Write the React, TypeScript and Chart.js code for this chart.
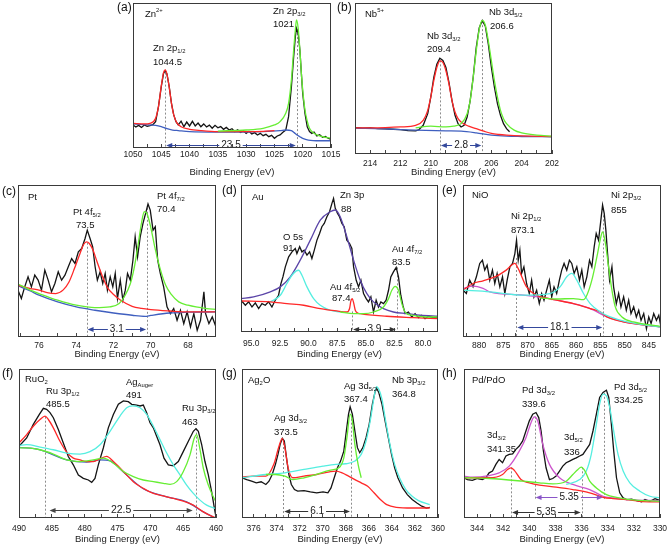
import { useEffect, useRef } from 'react';
import { Chart, registerables } from 'chart.js';

Chart.register(...registerables);

type Pt = [number, number];

const FONT = '"Liberation Sans", Arial, Helvetica, sans-serif';
const AXIS_TITLE = 'Binding Energy (eV)';

// ---------------- (a) Zn 2p ----------------
const aMajor = [1050, 1045, 1040, 1035, 1030, 1025, 1020, 1015];
const aMinor = [1047.5, 1042.5, 1037.5, 1032.5, 1027.5, 1022.5, 1017.5];
const aBlack: Pt[] = [[1050, 15.9], [1049.5, 14.5], [1049, 15.6], [1048.5, 14.2], [1048, 15.9], [1047.5, 14.9], [1047, 15.4], [1046.5, 16.1], [1046, 18.2], [1045.5, 28.5], [1045, 42.3], [1044.6, 51.5], [1044.3, 53.3], [1044, 51], [1043.6, 42.3], [1043.2, 30.8], [1042.8, 22.8], [1042.4, 18.2], [1042, 15.9], [1041.5, 18.5], [1041, 14.7], [1040.5, 17.9], [1040, 15.2], [1039.5, 18.4], [1039, 15.2], [1038.5, 17.2], [1038, 14.7], [1037.5, 16.6], [1037, 14.5], [1036.5, 15.8], [1036, 13.6], [1035.5, 15.6], [1035, 13.9], [1034.5, 14.8], [1034, 12.9], [1033.5, 14.2], [1033, 12.4], [1032.5, 13.3], [1032, 11.3], [1031.5, 12.6], [1031, 10.8], [1030.5, 11.9], [1030, 10.1], [1029.5, 11.5], [1029, 9.6], [1028.5, 10.6], [1028, 9.0], [1027.5, 10.1], [1027, 8.5], [1026.5, 9.4], [1026, 7.8], [1025.5, 8.7], [1025, 6.7], [1024.5, 8.3], [1024, 9.0], [1023.5, 10.8], [1023, 12.4], [1022.5, 21.6], [1022, 42.3], [1021.6, 63], [1021.3, 76.8], [1021.1, 82.5], [1020.8, 79], [1020.5, 67.6], [1020.2, 49.2], [1020, 37.7], [1019.6, 23.9], [1019.2, 14.7], [1018.8, 11.3], [1018.4, 10.1], [1018, 11.0], [1017.5, 8.3], [1017, 9.2], [1016.5, 7.4], [1016, 8.0], [1015.5, 6.7], [1015, 6.0]];
const aRed: Pt[] = [[1050, 17], [1048, 16.6], [1047, 17], [1046, 20.5], [1045.5, 28.5], [1045, 42.8], [1044.6, 52], [1044.3, 53.8], [1044, 51], [1043.6, 42], [1043.2, 30.8], [1042.8, 22.8], [1042.3, 17.7], [1041.5, 14.7], [1040, 12.9], [1038, 12], [1035, 11.3], [1030, 11.3], [1027, 11.5], [1025, 12]];
const aGreen: Pt[] = [[1035, 11.7], [1030, 12.4], [1027, 13.6], [1025, 15.9], [1024, 18.2], [1023, 23.9], [1022.5, 30.8], [1022, 46.9], [1021.6, 67.6], [1021.3, 81.4], [1021.1, 88.3], [1020.8, 82.5], [1020.5, 67.6], [1020.2, 49.2], [1020, 40], [1019.6, 26.2], [1019.2, 18.5], [1018.8, 13.6], [1018, 10.1], [1017, 8.3], [1016, 7.4], [1015, 6.7]];
const aBlue: Pt[] = [[1050, 16.6], [1048, 16.1], [1046, 15.6], [1045, 14.7], [1044, 13.3], [1043, 12.4], [1042, 12], [1040, 11.3], [1035, 11], [1030, 11], [1027, 11.3], [1024, 12], [1023, 12.4], [1022, 12], [1021.5, 10.6], [1021, 9], [1020.5, 7.8], [1020, 6.7], [1019, 5.5], [1017, 5], [1015, 5]];

// ---------------- (b) Nb 3d ----------------
const bMajor = [214, 212, 210, 208, 206, 204, 202];
const bMinor = [215, 213, 211, 209, 207, 205, 203];
const bBlack: Pt[] = [[215, 17.5], [214.5, 17.1], [214, 17.3], [213.5, 16.8], [213, 16.6], [212.5, 16.4], [212, 16.2], [211.5, 15.5], [211, 15.3], [210.8, 16], [210.5, 19], [210.2, 26.7], [210, 37.6], [209.8, 50.8], [209.6, 59.5], [209.4, 63.5], [209.2, 62], [209, 57.3], [208.8, 47.5], [208.6, 35.4], [208.4, 25.6], [208.2, 20.1], [208, 17.9], [207.8, 19], [207.6, 24.5], [207.4, 35.4], [207.2, 50.8], [207, 70.5], [206.8, 83.6], [206.6, 88.4], [206.4, 84.7], [206.2, 72.6], [206, 57.3], [205.8, 44.2], [205.6, 33.3], [205.4, 25.6], [205.2, 20.1], [205, 16.8], [204.8, 14.7]];
const bRed: Pt[] = [[215, 17.3], [213, 17.5], [212, 17.9], [211, 19], [210.5, 22.3], [210.2, 28.9], [210, 37.6], [209.8, 48.6], [209.6, 57.3], [209.4, 61.7], [209.2, 60.6], [209, 55.1], [208.8, 46.4], [208.6, 35.4], [208.4, 27.8], [208.2, 23.4], [208, 21.2], [207.5, 18.4], [207, 16.8], [206.5, 15.1], [206, 13.6], [205.5, 12.9], [205, 12.5], [204, 12], [202, 11.6]];
const bGreen: Pt[] = [[211, 17.3], [210, 18.4], [209, 17.9], [208.5, 18.4], [208, 20.1], [207.6, 26.7], [207.4, 35.4], [207.2, 50.8], [207, 68.3], [206.8, 82.5], [206.6, 88.4], [206.4, 85.3], [206.2, 74.8], [206, 61.7], [205.8, 48.6], [205.6, 37.6], [205.4, 28.9], [205.2, 23.4], [205, 20.1], [204.5, 15.8], [204, 14], [203, 12.5], [202, 11.8]];
const bBlue: Pt[] = [[215, 17.1], [213, 16.6], [211, 15.8], [209, 15.3], [208, 15.1], [207, 14], [206, 12.5], [205, 11.8], [204, 11.6], [202, 11.4]];

// ---------------- (c) Pt 4f ----------------
const cMajor = [76, 74, 72, 70, 68];
const cMinor = [77, 75, 73, 71, 69, 67];
const cBlack: Pt[] = [[77.13, 30.8], [76.95, 25.3], [76.77, 33], [76.59, 39.6], [76.41, 33], [76.23, 40.7], [76.05, 37.4], [75.87, 30.8], [75.69, 44], [75.51, 37.4], [75.33, 29.7], [75.15, 35.2], [74.97, 42.9], [74.79, 37.4], [74.61, 40.7], [74.43, 46.2], [74.25, 51.6], [74.07, 48.4], [73.89, 56], [73.71, 58.2], [73.53, 64.8], [73.41, 70.3], [73.26, 64.8], [73.12, 59.3], [72.99, 46.2], [72.87, 37.4], [72.72, 42.9], [72.58, 35.2], [72.45, 41.8], [72.33, 30.8], [72.18, 39.6], [72.04, 33], [71.91, 41.8], [71.79, 25.3], [71.64, 37.4], [71.5, 24.2], [71.37, 30.8], [71.25, 41.8], [71.1, 37.4], [70.96, 50.5], [70.84, 65.9], [70.71, 52.7], [70.57, 65.9], [70.42, 74.7], [70.28, 81.3], [70.15, 87.5], [70.03, 83.5], [69.88, 70.3], [69.76, 72.5], [69.63, 50.5], [69.49, 41.8], [69.31, 33], [69.13, 19.8], [68.95, 15.4], [68.77, 18.7], [68.59, 11], [68.41, 17.6], [68.23, 8.8], [68.05, 16.5], [67.87, 6.6], [67.69, 15.4], [67.51, 4.4], [67.33, 11], [67.15, 29.7], [67.06, 15.4], [66.88, 8.8], [66.7, 13.2], [66.5, 6.6]];
const cRed: Pt[] = [[77.1, 34], [76.5, 32], [76, 30.8], [75.5, 29], [75.1, 28.6], [74.7, 31], [74.4, 36], [74.1, 45], [73.8, 55], [73.6, 61], [73.45, 62.6], [73.3, 61.5], [73.1, 57], [72.9, 50], [72.6, 40], [72.3, 32], [72, 28], [71.6, 24], [71, 20.2], [70.5, 18.8], [70, 18], [69, 17.1], [68, 16.5], [66.5, 16.5]];
const cGreen: Pt[] = [[77.1, 34.7], [76.5, 31], [76, 28.6], [75, 24.2], [74, 20.9], [73, 19.3], [72.2, 19.8], [71.7, 22], [71.4, 27], [71.1, 35], [70.9, 45], [70.7, 59.3], [70.5, 75], [70.35, 82.4], [70.2, 81], [70, 72], [69.8, 60], [69.5, 45], [69.2, 34], [68.9, 28], [68.5, 23.1], [68, 20.9], [67, 18.7], [66.5, 18.2]];
const cBlue: Pt[] = [[77.1, 33.4], [76.5, 30.5], [76, 27.5], [75, 23.1], [74, 19.8], [73, 17.6], [72, 15.8], [71, 14.3], [70.3, 13.6], [70, 14.2], [69, 15.8], [68, 16.3], [66.5, 16.5]];

// ---------------- (d) Au 4f / Zn 3p ----------------
const dMajor = [95, 92.5, 90, 87.5, 85, 82.5, 80];
const dMinor = [93.75, 91.25, 88.75, 86.25, 83.75, 81.25, 78.75];
const dBlack: Pt[] = [[95.9, 21.6], [95.52, 18.2], [95.23, 20.5], [94.94, 17], [94.65, 19.8], [94.36, 15.9], [94.07, 19.3], [93.78, 18.2], [93.49, 20.5], [93.2, 17], [92.91, 21.6], [92.62, 25], [92.41, 33], [92.24, 37.5], [92.03, 44.3], [91.74, 51.1], [91.45, 54.5], [91.16, 56.8], [91.02, 53.4], [90.78, 58], [90.58, 54.5], [90.38, 55.7], [90.14, 52.3], [89.91, 54.5], [89.71, 50], [89.5, 55.7], [89.27, 62.5], [89.04, 67], [88.84, 71.6], [88.63, 73.9], [88.4, 78.4], [88.17, 81.8], [87.96, 87.5], [87.82, 90.9], [87.67, 84.1], [87.47, 80.7], [87.3, 78.4], [87.09, 73.9], [86.89, 71.6], [86.66, 62.5], [86.42, 60.2], [86.22, 56.8], [86.07, 44.3], [85.84, 35.2], [85.64, 30.7], [85.43, 35.2], [85.2, 26.1], [84.97, 22.7], [84.77, 20.5], [84.56, 23.9], [84.33, 13.6], [84.1, 21.6], [83.9, 17], [83.69, 20.5], [83.46, 19.3], [83.23, 21.6], [83.02, 28.4], [82.82, 37.5], [82.59, 40.9], [82.35, 43.9], [82.15, 37.5], [81.95, 25], [81.77, 18.2], [81.57, 12.5], [81.28, 13.6], [80.99, 10.2], [80.7, 12.5], [80.41, 9.8], [80.12, 11.4], [79.83, 9.1], [79.53, 10.7], [79.1, 9.8], [78.7, 10.2]];
const dPurple: Pt[] = [[95.9, 22.7], [94.8, 23.9], [93.34, 27.3], [92.47, 30.7], [91.6, 37.5], [90.73, 48.9], [89.85, 62.5], [88.98, 76.1], [88.11, 81.8], [87.67, 83], [87.24, 78.4], [86.66, 64.8], [86.07, 48.9], [85.49, 35.2], [84.91, 26.1], [84.33, 20.5], [83.46, 15.9], [82.59, 13.6], [81.42, 12.5], [80.26, 11.4], [78.7, 10.7]];
const dCyan: Pt[] = [[93.34, 20.5], [92.47, 25], [91.89, 33], [91.45, 38.6], [91.07, 41.6], [90.87, 42], [90.58, 38.6], [90.14, 30.7], [89.56, 22.7], [88.98, 18.2], [88.11, 14.8], [87.24, 13.6]];
const dRed: Pt[] = [[95.9, 21.1], [93.34, 20.5], [91.89, 19.3], [90.43, 18.2], [88.98, 15.9], [87.53, 14.3], [86.66, 13.6], [86.42, 16], [86.31, 21], [86.19, 22.7], [86.07, 20], [85.93, 15], [85.73, 13], [85.49, 12.5], [83.17, 10.7], [80.84, 9.8], [78.7, 9.1]];
const dGreen: Pt[] = [[87.24, 13.6], [86.07, 12.5], [85.2, 12.5], [84.33, 13.6], [83.46, 17], [83.02, 22.7], [82.73, 28.4], [82.44, 31.1], [82.15, 28.4], [81.86, 19.3], [81.57, 13.6], [80.99, 11.4], [79.68, 10.2], [78.7, 10.2]];

// ---------------- (e) Ni 2p ----------------
const eMajor = [880, 875, 870, 865, 860, 855, 850, 845];
const eMinor = [882.5, 877.5, 872.5, 867.5, 862.5, 857.5, 852.5, 847.5];
const eBlack: Pt[] = [[883.3, 30.8], [882.61, 28.6], [881.92, 37.4], [881.23, 33], [880.54, 39.6], [879.85, 48.4], [879.3, 50.5], [878.82, 44], [878.33, 47.3], [877.78, 37.4], [877.23, 44], [876.75, 35.2], [876.27, 41.8], [875.71, 33], [875.16, 39.6], [874.68, 28.6], [874.2, 37.4], [873.64, 46.2], [873.09, 48.4], [872.61, 54.9], [872.27, 63.7], [871.92, 50.5], [871.58, 57.1], [871.23, 41.8], [870.75, 46.2], [870.2, 35.2], [869.64, 28.6], [869.16, 37.4], [868.68, 26.4], [868.13, 30.8], [867.58, 22], [867.09, 28.6], [866.61, 24.2], [866.06, 30.8], [865.51, 37.4], [865.02, 26.4], [864.54, 33], [864, 28.6], [863.44, 37.4], [862.96, 44], [862.47, 48.4], [861.92, 44], [861.37, 50.5], [860.89, 48.4], [860.4, 41.8], [859.85, 46.2], [859.3, 37.4], [858.82, 44], [858.33, 33], [857.78, 39.6], [857.23, 50.5], [856.75, 46.2], [856.27, 59.3], [855.85, 68.1], [855.37, 63.7], [854.89, 76.9], [854.54, 86.8], [854.2, 81.3], [853.86, 70.3], [853.51, 54.9], [853.1, 37.4], [852.61, 46.2], [852.27, 33], [851.71, 22], [851.23, 28.6], [850.75, 19.8], [850.2, 26.4], [849.65, 17.6], [849.16, 24.2], [848.68, 15.4], [848.13, 19.8], [847.58, 13.2], [847.09, 17.6], [846.61, 11], [846.06, 15.4], [845.5, 5.5], [845.02, 13.2], [844.54, 8.8], [844, 15.4], [843.44, 11], [842.96, 14.3], [842.5, 6.6]];
const eRed: Pt[] = [[883.3, 30.8], [881.23, 35.2], [879.16, 37], [876.4, 40], [874.4, 44], [872.61, 48.4], [871.92, 45], [870.2, 33], [868.13, 27.5], [866.06, 25.5], [864, 24.2], [860.54, 22], [857.09, 18.7], [855.02, 16.5], [853.64, 13.2], [851.57, 11], [848.13, 8.8], [842.5, 6.6]];
const eMagenta: Pt[] = [[883.3, 31.9], [881.23, 33.5], [879.16, 32], [877.78, 29.7], [870.89, 27.5], [864, 24.2], [857.09, 18.7], [853.64, 13.2], [850.2, 9.9], [842.5, 6.6]];
const eCyan: Pt[] = [[883.3, 30.8], [877.78, 29.7], [870.89, 27.5], [865.37, 28.6], [863.3, 33], [861.92, 39.6], [860.89, 41.8], [859.85, 37.4], [858.47, 28.6], [857.09, 22], [855.02, 16.5], [852.95, 13.2], [849.51, 9.9], [842.5, 6.6]];
const eGreen: Pt[] = [[867.44, 25.7], [864, 25], [860.54, 25.3], [858.47, 24.6], [857.78, 27.5], [856.75, 37.4], [855.71, 52.7], [854.89, 65.9], [854.54, 69.2], [854, 62.6], [853.3, 46.2], [852.61, 30.8], [851.92, 19.8], [850.54, 13.2], [848.13, 9.9], [842.5, 7]];

// ---------------- (f) Ru 3p ----------------
const fMajor = [490, 485, 480, 475, 470, 465, 460];
const fMinor = [487.5, 482.5, 477.5, 472.5, 467.5, 462.5];
const fBlack: Pt[] = [[490, 48.1], [488.83, 53.7], [487.82, 62.8], [486.9, 69.5], [486.29, 73.6], [485.79, 72.9], [485.28, 70.7], [484.77, 67.3], [484.01, 59.4], [483.25, 50.3], [482.49, 41.3], [481.73, 35.7], [480.96, 28.9], [480.2, 26.6], [479.44, 25.5], [478.93, 23.9], [478.43, 26.6], [477.92, 35.7], [477.16, 47], [476.4, 60.5], [475.63, 69.5], [474.87, 76.3], [474.11, 78.6], [473.35, 78.1], [472.84, 76.3], [472.08, 75.8], [471.57, 75.2], [471.07, 75.8], [470.56, 70.7], [470.05, 63.9], [469.54, 60.5], [469.04, 54.9], [468.53, 49.2], [467.92, 40.2], [467.26, 35.7], [466.5, 35], [465.74, 37.9], [464.97, 44.7], [464.21, 51.5], [463.45, 58.2], [463.05, 60], [462.69, 58.2], [462.18, 49.2], [461.68, 37.9], [461.17, 28.9], [460.66, 17.6], [460.15, 4.1], [460, 0.7]];
const fRed: Pt[] = [[490, 50.3], [488.83, 56], [487.82, 61.6], [486.8, 66.1], [486.04, 68.4], [485.53, 66.1], [484.77, 60.5], [483.76, 51.5], [482.74, 44.2], [481.73, 40.2], [480.71, 39], [479.7, 37.9], [478.68, 37.9], [477.66, 39.7], [476.65, 41.3], [475.63, 37.9], [474.11, 31.2], [472.59, 24.4], [471.07, 19.9], [469.54, 16.5], [468.02, 14.9], [466.5, 13.1], [464.97, 11.3], [463.45, 8.6], [461.93, 4.1], [460.41, 0.7], [460, 0]];
const fCyan: Pt[] = [[490, 48.8], [488.83, 49.2], [486.8, 47.6], [484.77, 45.8], [482.74, 43.6], [480.71, 42.9], [479.19, 44.5], [477.66, 49.2], [476.14, 58.2], [474.62, 68.4], [473.6, 74], [472.69, 75.2], [471.57, 74], [470.56, 69.5], [469.54, 61.6], [468.53, 52.6], [467.51, 43.6], [466.5, 35.7], [465.48, 28.9], [464.47, 22.1], [463.45, 16.5], [462.44, 12], [461.42, 8.6], [460, 6.3]];
const fGreen: Pt[] = [[490, 47], [488.83, 47], [486.8, 45.8], [484.77, 42.9], [482.74, 39], [480.71, 37.9], [478.68, 39], [477.16, 40.2], [475.63, 36.8], [474.11, 31.2], [472.59, 27.8], [471.07, 25.5], [469.54, 24.4], [468.02, 23.3], [467, 22.6], [465.99, 24.4], [464.97, 31.2], [463.96, 42.4], [463.3, 53.7], [462.94, 56], [462.44, 46], [461.93, 33.4], [461.17, 22.1], [460.41, 14.2], [460, 10.8]];
const fBlue: Pt[] = [[490, 47.4], [486.8, 45.8], [482.74, 39], [479.7, 37.5], [477.66, 39], [476.14, 38.3], [474.11, 30.9], [471.07, 19.6], [467.51, 14.2], [464.47, 10.8], [461.93, 4.1], [460.41, 0.7]];

// ---------------- (g) Ag 3d ----------------
const gMajor = [376, 374, 372, 370, 368, 366, 364, 362, 360];
const gMinor = [375, 373, 371, 369, 367, 365, 363, 361];
const gBlack: Pt[] = [[377, 27], [376.59, 25.8], [376.17, 24.7], [375.76, 23.6], [375.34, 24.3], [374.93, 22.5], [374.66, 24.7], [374.38, 29.2], [374.1, 36], [373.88, 42.7], [373.69, 49.4], [373.5, 53.5], [373.33, 51.7], [373.14, 40.4], [372.94, 29.2], [372.72, 22.5], [372.45, 19.1], [372.17, 18], [371.62, 18.4], [371.07, 17.5], [370.52, 16.9], [369.97, 17.5], [369.55, 16.9], [369.28, 20.2], [369, 27], [368.72, 33.7], [368.45, 38.2], [368.17, 44.9], [367.95, 58.4], [367.76, 69.7], [367.62, 74.6], [367.43, 69.7], [367.21, 58.4], [366.99, 47.2], [366.79, 43.8], [366.52, 47.2], [366.24, 53.9], [365.97, 62.9], [365.69, 76.4], [365.47, 84.3], [365.33, 87.2], [365.14, 84.3], [364.86, 76.4], [364.59, 65.2], [364.31, 53.9], [364.03, 42.7], [363.76, 33.7], [363.48, 27], [363.07, 20.2], [362.66, 15.7], [362.24, 12.4], [361.83, 10.1], [361.41, 7.9], [361, 6.7], [360.72, 7.2]];
const gRed: Pt[] = [[377, 27.4], [376.03, 28.1], [374.93, 28.1], [374.24, 36], [373.83, 47.2], [373.5, 53.5], [373.28, 47.2], [373, 33.7], [372.59, 27], [371.62, 28.1], [370.52, 29.2], [369.41, 31], [368.86, 31.5], [368.31, 30.3], [367.76, 28.1], [367.21, 25.8], [366.66, 23.6], [366.1, 21.3], [365.55, 16.9], [365, 12.4], [364.45, 9], [363.62, 7.2], [362.24, 6.7], [360.72, 6.7]];
const gGreen: Pt[] = [[374.93, 29.2], [374.1, 29.2], [373.28, 28.1], [372.59, 25.8], [371.62, 27], [370.52, 29.2], [369.41, 32], [368.59, 33.7], [368.17, 40.4], [367.9, 53.9], [367.62, 69.7], [367.43, 65.2], [367.21, 49.4], [366.93, 36], [366.66, 27]];
const gCyan: Pt[] = [[377, 27], [374.93, 29.2], [373.28, 30.3], [371.62, 32.6], [369.97, 34.8], [368.86, 36], [368.03, 36.4], [367.21, 38.2], [366.66, 42.7], [366.24, 51.7], [365.83, 67.4], [365.55, 80.9], [365.33, 88.1], [365.14, 86.5], [364.86, 79.8], [364.59, 67.4], [364.17, 49.4], [363.76, 36], [363.34, 27], [362.79, 19.1], [362.24, 14.6], [361.69, 11.7], [360.72, 9]];

// ---------------- (h) Pd 3d ----------------
const hMajor = [344, 342, 340, 338, 336, 334, 332, 330];
const hMinor = [343, 341, 339, 337, 335, 333, 331];
const hBlack: Pt[] = [[345, 27], [344.74, 25.8], [344.36, 25.2], [343.97, 26.5], [343.59, 25.8], [343.33, 27], [343.08, 30.3], [342.82, 31.5], [342.56, 36], [342.31, 39.3], [342.05, 37.1], [341.79, 41.6], [341.54, 42.7], [341.28, 43.1], [341.03, 46.1], [340.77, 48.3], [340.51, 51.7], [340.26, 58.4], [340, 65.2], [339.74, 69.7], [339.49, 70.8], [339.28, 67.4], [339.1, 58.4], [338.92, 44.9], [338.72, 33.7], [338.46, 25.8], [338.21, 26.5], [337.95, 28.1], [337.69, 31.5], [337.44, 34.8], [337.18, 37.1], [336.92, 38.2], [336.67, 39.3], [336.41, 40.4], [336.15, 41.6], [335.9, 42.7], [335.64, 46.1], [335.38, 49.4], [335.13, 58.4], [334.87, 69.7], [334.62, 80.9], [334.36, 84.3], [334.1, 85.8], [333.92, 80.9], [333.72, 62.9], [333.54, 44.9], [333.33, 27], [333.08, 16.9], [332.82, 13.5], [332.56, 12.4], [332.18, 12.6], [331.79, 11.7], [331.41, 10.8], [331.15, 12.4], [330.77, 11.2], [330.38, 13], [330, 11.7]];
const hMagenta: Pt[] = [[345, 28.1], [344.36, 27.4], [343.08, 28.5], [342.31, 30.3], [341.54, 34.8], [340.77, 44.9], [340.26, 53.9], [339.87, 64], [339.62, 67.9], [339.36, 65.2], [338.97, 49.4], [338.46, 36], [337.69, 27], [336.67, 22.5], [335.38, 19.1], [334.36, 14.6], [333.59, 13.5], [332.56, 12.4], [330, 11.7]];
const hRed: Pt[] = [[345, 27], [343.08, 27], [342.05, 29.2], [341.67, 32.6], [341.41, 33.7], [341.15, 32], [340.64, 25.8], [340, 23.6], [339.23, 22], [337.95, 20.7], [336.67, 19.1], [335.38, 16.9], [334.36, 13.9], [333.59, 13], [332.56, 12.4], [331.54, 11.2], [330, 10.8]];
const hGreen: Pt[] = [[345, 27], [343.08, 26.5], [340.51, 24.7], [339.23, 23.6], [338.21, 22.9], [337.18, 24.7], [336.67, 29.2], [336.28, 32.6], [336.03, 34.2], [335.77, 32], [335.38, 24.7], [334.87, 20.2], [334.1, 15.7], [333.33, 13.9], [332.31, 12.4], [330, 11.2]];
const hCyan: Pt[] = [[337.18, 22.5], [336.15, 25.8], [335.64, 31.5], [335.26, 42.7], [334.87, 62.9], [334.62, 76.4], [334.36, 83.1], [334.1, 82], [333.85, 74.2], [333.59, 60.7], [333.21, 42.7], [332.82, 31.5], [332.31, 23.6], [331.54, 18], [330.77, 14.6], [330, 13.5]];

// ---------------- styling ----------------
const C = {
  black: '#141414',
  red: '#ff2828',
  green: '#66ee33',
  blue: '#3f5fbf',
  cyan: '#55eee0',
  purple: '#5b45a8',
  magenta: '#cc55cc',
};

type Series = { d: Pt[]; c: string; smooth: boolean };
type Lab = { t: string; dx: number; dy: number; size?: number };
type VL = { x: number; y0: number; y1: number };
type Arr = { x0: number; x1: number; y: number; text: string; color?: string; size?: number };
type Panel = {
  tag: string;
  box: [number, number, number, number];
  xMax: number; xMin: number;
  major: number[]; minor: number[]; dec: number;
  tickY: number; titleY: number;
  series: Series[];
  labels: Lab[]; vlines: VL[]; arrows: Arr[];
};

const fit = (d: Pt[], c: string): Series => ({ d, c, smooth: true });
const raw = (d: Pt[]): Series => ({ d, c: C.black, smooth: false });

const PANELS: Panel[] = [
  {
    tag: 'a', box: [133, 3, 331, 148], xMax: 1050, xMin: 1015, major: aMajor, minor: aMinor, dec: 0,
    tickY: 154.5, titleY: 173,
    series: [fit(aGreen, C.green), fit(aRed, C.red), fit(aBlue, C.blue), raw(aBlack)],
    labels: [
      { t: '(a)', dx: -16, dy: 5, size: 12 },
      { t: 'Zn^{2+}', dx: 12, dy: 11 },
      { t: 'Zn 2p_{1/2}', dx: 20, dy: 45 },
      { t: '1044.5', dx: 20, dy: 59 },
      { t: 'Zn 2p_{3/2}', dx: 140, dy: 8 },
      { t: '1021', dx: 140, dy: 21 },
    ],
    vlines: [{ x: 1044.3, y0: 52, y1: 0 }, { x: 1021.05, y0: 82, y1: 0 }],
    arrows: [{ x0: 1044.3, x1: 1021.05, y: 2, text: '23.5' }],
  },
  {
    tag: 'b', box: [355, 3, 552, 154], xMax: 215, xMin: 202, major: bMajor, minor: bMinor, dec: 0,
    tickY: 163, titleY: 173,
    series: [fit(bGreen, C.green), fit(bRed, C.red), fit(bBlue, C.blue), raw(bBlack)],
    labels: [
      { t: '(b)', dx: -18, dy: 5, size: 12 },
      { t: 'Nb^{5+}', dx: 10, dy: 11 },
      { t: 'Nb 3d_{3/2}', dx: 72, dy: 33 },
      { t: '209.4', dx: 72, dy: 46 },
      { t: 'Nb 3d_{5/2}', dx: 134, dy: 9.5 },
      { t: '206.6', dx: 135, dy: 23 },
    ],
    vlines: [{ x: 209.4, y0: 62, y1: 0 }, { x: 206.6, y0: 88, y1: 0 }],
    arrows: [{ x0: 209.4, x1: 206.6, y: 6, text: '2.8' }],
  },
  {
    tag: 'c', box: [18, 185, 216, 337], xMax: 77.13, xMin: 66.5, major: cMajor, minor: cMinor, dec: 0,
    tickY: 345, titleY: 355,
    series: [fit(cGreen, C.green), fit(cRed, C.red), fit(cBlue, C.blue), raw(cBlack)],
    labels: [
      { t: '(c)', dx: -16, dy: 7, size: 12 },
      { t: 'Pt', dx: 10, dy: 12 },
      { t: 'Pt 4f_{5/2}', dx: 55, dy: 27 },
      { t: '73.5', dx: 58, dy: 40 },
      { t: 'Pt 4f_{7/2}', dx: 139, dy: 11 },
      { t: '70.4', dx: 139, dy: 24 },
    ],
    vlines: [{ x: 73.45, y0: 62, y1: 0 }, { x: 70.2, y0: 85, y1: 0 }],
    arrows: [{ x0: 73.45, x1: 70.2, y: 5, text: '3.1' }],
  },
  {
    tag: 'd', box: [241, 185, 438, 332], xMax: 95.9, xMin: 78.7, major: dMajor, minor: dMinor, dec: 1,
    tickY: 343, titleY: 355,
    series: [fit(dGreen, C.green), fit(dRed, C.red), fit(dCyan, C.cyan), fit(dPurple, C.purple), raw(dBlack)],
    labels: [
      { t: '(d)', dx: -19, dy: 6, size: 12 },
      { t: 'Au', dx: 11, dy: 12 },
      { t: 'Zn 3p', dx: 99, dy: 10 },
      { t: '88', dx: 100, dy: 24 },
      { t: 'O 5s', dx: 42, dy: 52 },
      { t: '91', dx: 42, dy: 63 },
      { t: 'Au 4f_{5/2}', dx: 89, dy: 102 },
      { t: '87.4', dx: 91, dy: 113 },
      { t: 'Au 4f_{7/2}', dx: 151, dy: 64 },
      { t: '83.5', dx: 151, dy: 77 },
    ],
    vlines: [{ x: 86.2, y0: 14, y1: 0 }, { x: 82.3, y0: 44, y1: 0 }],
    arrows: [{ x0: 86.2, x1: 82.3, y: 2, text: '3.9', color: '#333' }],
  },
  {
    tag: 'e', box: [463, 185, 661, 337], xMax: 883.3, xMin: 842.5, major: eMajor, minor: eMinor, dec: 0,
    tickY: 345, titleY: 355,
    series: [fit(eGreen, C.green), fit(eCyan, C.cyan), fit(eRed, C.red), fit(eMagenta, C.magenta), raw(eBlack)],
    labels: [
      { t: '(e)', dx: -21, dy: 6, size: 12 },
      { t: 'NiO', dx: 9, dy: 10 },
      { t: 'Ni 2p_{1/2}', dx: 48, dy: 31 },
      { t: '873.1', dx: 48, dy: 45 },
      { t: 'Ni 2p_{3/2}', dx: 148, dy: 10 },
      { t: '855', dx: 148, dy: 25 },
    ],
    vlines: [{ x: 872.3, y0: 52, y1: 0 }, { x: 854.4, y0: 80, y1: 0 }],
    arrows: [{ x0: 872.3, x1: 854.4, y: 6.6, text: '18.1' }],
  },
  {
    tag: 'f', box: [19, 369, 216, 518], xMax: 490, xMin: 460, major: fMajor, minor: fMinor, dec: 0,
    tickY: 528, titleY: 540,
    series: [fit(fGreen, C.green), fit(fCyan, C.cyan), fit(fRed, C.red), fit(fBlue, C.blue), raw(fBlack)],
    labels: [
      { t: '(f)', dx: -17, dy: 5, size: 12 },
      { t: 'RuO_{2}', dx: 6, dy: 10 },
      { t: 'Ru 3p_{1/2}', dx: 27, dy: 22 },
      { t: '485.5', dx: 27, dy: 35 },
      { t: 'Ag_{Auger}', dx: 107, dy: 13 },
      { t: '491', dx: 107, dy: 26 },
      { t: 'Ru 3p_{3/2}', dx: 163, dy: 39 },
      { t: '463', dx: 163, dy: 53 },
    ],
    vlines: [{ x: 486.0, y0: 68, y1: 0 }, { x: 463.05, y0: 60, y1: 0 }],
    arrows: [{ x0: 485.5, x1: 463.4, y: 5.6, text: '22.5', color: '#444', size: 10.5 }],
  },
  {
    tag: 'g', box: [242, 369, 438, 518], xMax: 377, xMin: 360, major: gMajor, minor: gMinor, dec: 0,
    tickY: 528, titleY: 540,
    series: [fit(gGreen, C.green), fit(gCyan, C.cyan), fit(gRed, C.red), raw(gBlack)],
    labels: [
      { t: '(g)', dx: -20, dy: 5, size: 12 },
      { t: 'Ag_{2}O', dx: 6, dy: 11 },
      { t: 'Ag 3d_{3/2}', dx: 32, dy: 49 },
      { t: '373.5', dx: 32, dy: 63 },
      { t: 'Ag 3d_{5/2}', dx: 102, dy: 17 },
      { t: '367.4', dx: 102, dy: 30 },
      { t: 'Nb 3p_{3/2}', dx: 150, dy: 11 },
      { t: '364.8', dx: 150, dy: 25 },
    ],
    vlines: [{ x: 373.42, y0: 53, y1: 0 }, { x: 367.55, y0: 72, y1: 0 }],
    arrows: [{ x0: 373.42, x1: 367.55, y: 4.5, text: '6.1', color: '#333' }],
  },
  {
    tag: 'h', box: [464, 369, 660, 518], xMax: 345, xMin: 330, major: hMajor, minor: hMinor, dec: 0,
    tickY: 528, titleY: 540,
    series: [fit(hGreen, C.green), fit(hCyan, C.cyan), fit(hRed, C.red), fit(hMagenta, C.magenta), raw(hBlack)],
    labels: [
      { t: '(h)', dx: -22, dy: 5, size: 12 },
      { t: 'Pd/PdO', dx: 8, dy: 11 },
      { t: 'Pd 3d_{3/2}', dx: 58, dy: 21 },
      { t: '339.6', dx: 58, dy: 35 },
      { t: '3d_{3/2}', dx: 23, dy: 66 },
      { t: '341.35', dx: 23, dy: 80 },
      { t: '3d_{5/2}', dx: 100, dy: 68 },
      { t: '336', dx: 100, dy: 83 },
      { t: 'Pd 3d_{5/2}', dx: 150, dy: 18 },
      { t: '334.25', dx: 150, dy: 31 },
    ],
    vlines: [
      { x: 341.4, y0: 34, y1: 0 }, { x: 339.6, y0: 68, y1: 12 },
      { x: 336.0, y0: 34, y1: 0 }, { x: 334.3, y0: 84, y1: 12 },
    ],
    arrows: [
      { x0: 339.6, x1: 334.3, y: 14.2, text: '5.35', color: '#8a55c8' },
      { x0: 341.4, x1: 336.0, y: 4, text: '5.35', color: '#333' },
    ],
  },
];

// ---------------- drawing helpers ----------------
function drawRich(ctx: CanvasRenderingContext2D, text: string, x: number, y: number, size: number, color: string) {
  const parts = text.split(/(_\{[^}]*\}|\^\{[^}]*\})/).filter((s) => s.length > 0);
  let cx = x;
  ctx.fillStyle = color;
  ctx.textBaseline = 'middle';
  ctx.textAlign = 'left';
  for (const part of parts) {
    let s = part;
    let fs = size;
    let dy = 0;
    if (part.startsWith('_{')) { s = part.slice(2, -1); fs = size * 0.62; dy = size * 0.33; }
    else if (part.startsWith('^{')) { s = part.slice(2, -1); fs = size * 0.62; dy = -size * 0.38; }
    ctx.font = `${fs}px ${FONT}`;
    ctx.fillText(s, cx, y + dy);
    cx += ctx.measureText(s).width;
  }
}

function drawVLines(chart: any, p: Panel) {
  const { ctx, scales } = chart;
  const xs = scales.x, ys = scales.y;
  ctx.save();
  ctx.strokeStyle = '#8c8c8c';
  ctx.lineWidth = 1;
  ctx.setLineDash([2, 2]);
  for (const v of p.vlines) {
    const px = Math.round(xs.getPixelForValue(v.x)) + 0.5;
    ctx.beginPath();
    ctx.moveTo(px, ys.getPixelForValue(v.y0));
    ctx.lineTo(px, ys.getPixelForValue(v.y1));
    ctx.stroke();
  }
  ctx.restore();
}

function drawOverlay(chart: any, p: Panel) {
  const { ctx, chartArea: ca, scales } = chart;
  const xs = scales.x, ys = scales.y;
  ctx.save();
  for (const a of p.arrows) {
    const p0 = xs.getPixelForValue(a.x0), p1 = xs.getPixelForValue(a.x1);
    const xa = Math.min(p0, p1), xb = Math.max(p0, p1);
    const y = Math.round(ys.getPixelForValue(a.y)) + 0.5;
    const col = a.color ?? '#34489c';
    const size = a.size ?? 10;
    ctx.font = `${size}px ${FONT}`;
    const w = ctx.measureText(a.text).width;
    const cx = (xa + xb) / 2;
    ctx.strokeStyle = col;
    ctx.fillStyle = col;
    ctx.lineWidth = 1;
    ctx.beginPath();
    ctx.moveTo(xa + 3, y); ctx.lineTo(cx - w / 2 - 2, y);
    ctx.moveTo(cx + w / 2 + 2, y); ctx.lineTo(xb - 3, y);
    ctx.stroke();
    ctx.beginPath(); ctx.moveTo(xa + 1, y); ctx.lineTo(xa + 7, y - 2.5); ctx.lineTo(xa + 7, y + 2.5); ctx.closePath(); ctx.fill();
    ctx.beginPath(); ctx.moveTo(xb - 1, y); ctx.lineTo(xb - 7, y - 2.5); ctx.lineTo(xb - 7, y + 2.5); ctx.closePath(); ctx.fill();
    ctx.fillStyle = '#1a1a1a';
    ctx.textAlign = 'center';
    ctx.textBaseline = 'middle';
    ctx.fillText(a.text, cx, y);
  }
  ctx.strokeStyle = '#3a3a3a';
  ctx.lineWidth = 1;
  const l = Math.round(ca.left) + 0.5, t = Math.round(ca.top) + 0.5;
  const r = Math.round(ca.right) - 0.5, b = Math.round(ca.bottom) - 0.5;
  ctx.strokeRect(l, t, r - l, b - t);
  for (const lb of p.labels) {
    drawRich(ctx, lb.t, ca.left + lb.dx, ca.top + lb.dy, lb.size ?? 9.5, '#111');
  }
  ctx.restore();
}

function PanelChart({ p }: { p: Panel }) {
  const ref = useRef<HTMLCanvasElement>(null);
  const [L, T, R, B] = p.box;
  const padL = Math.min(24, L);
  const padR = 16;
  const top = Math.max(0, T - 6);
  const padT = T - top;
  const width = R - L + padL + padR;
  const height = Math.round(p.titleY + 5.4 - top);
  const axisH = height - padT - (B - T);
  const tickPad = p.tickY - B - 0.8;

  useEffect(() => {
    const canvas = ref.current;
    if (!canvas) return;
    const allTicks = [...p.major, ...p.minor].sort((u, v) => u - v);
    const chart = new Chart(canvas, {
      type: 'line',
      data: {
        datasets: p.series.map((s) => ({
          data: s.d.map(([x, y]) => ({ x, y })),
          borderColor: s.c,
          borderWidth: 1.3,
          pointRadius: 0,
          fill: false,
          tension: s.smooth ? 0.4 : 0,
          cubicInterpolationMode: s.smooth ? 'monotone' : 'default',
        })),
      },
      options: {
        responsive: false,
        animation: false,
        devicePixelRatio: 1,
        events: [],
        layout: { padding: { left: padL, right: padR, top: padT, bottom: 0 } },
        plugins: { legend: { display: false }, tooltip: { enabled: false } },
        scales: {
          x: {
            type: 'linear',
            reverse: true,
            min: p.xMin,
            max: p.xMax,
            afterBuildTicks: (ax: any) => { ax.ticks = allTicks.map((v) => ({ value: v })); },
            afterFit: (ax: any) => { ax.height = axisH; },
            ticks: {
              autoSkip: false,
              maxRotation: 0,
              minRotation: 0,
              padding: tickPad,
              color: '#222',
              font: { family: FONT, size: 8.5 },
              callback: (v: any) => {
                const m = p.major.find((t) => Math.abs(t - Number(v)) < 1e-6);
                return m === undefined ? '' : m.toFixed(p.dec);
              },
            },
            grid: { display: true, drawOnChartArea: false, drawTicks: true, tickLength: -4, color: '#444', tickWidth: 1 },
            border: { display: false },
            title: { display: true, text: AXIS_TITLE, color: '#222', font: { family: FONT, size: 9.5 }, padding: 0 },
          },
          y: { display: false, min: 0, max: 100 },
        },
      } as any,
      plugins: [
        {
          id: 'xps_' + p.tag,
          beforeDatasetsDraw: (c: any) => drawVLines(c, p),
          afterDatasetsDraw: (c: any) => drawOverlay(c, p),
        },
      ],
    });
    return () => chart.destroy();
  }, []);

  return (
    <canvas
      ref={ref}
      width={width}
      height={height}
      style={{ position: 'absolute', left: L - padL, top, width, height }}
    />
  );
}

export default function App() {
  useEffect(() => {
    document.body.style.margin = '0';
  }, []);
  return (
    <div style={{ position: 'fixed', left: 0, top: 0, width: 668, height: 546, overflow: 'hidden', background: '#fff' }}>
      {PANELS.map((p) => (
        <PanelChart key={p.tag} p={p} />
      ))}
    </div>
  );
}
